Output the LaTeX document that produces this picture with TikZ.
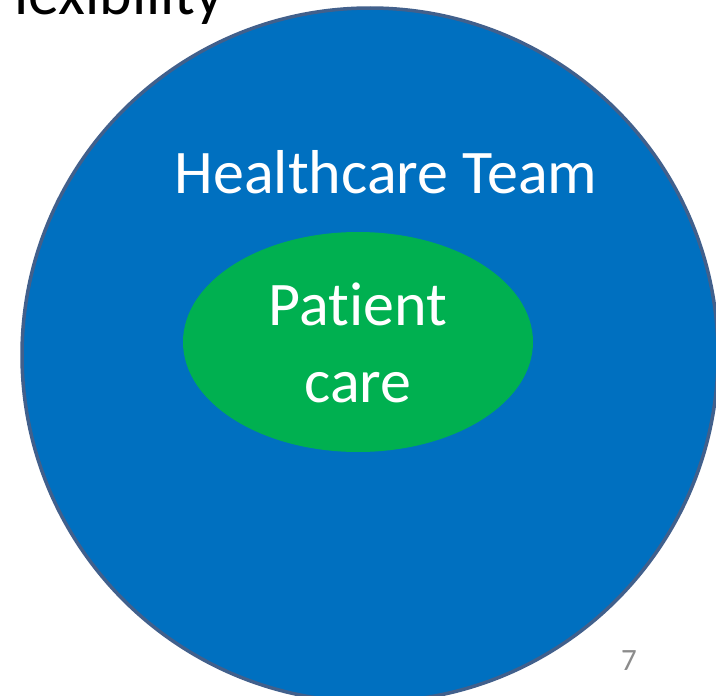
\documentclass[tikz,border=0pt]{standalone}
\usepackage{fontspec}
\setmainfont[Ligatures=NoCommon]{Carlito}
\usetikzlibrary{shapes.geometric}
\definecolor{teamblue}{HTML}{0070C0}
\definecolor{teamedge}{HTML}{41608C}
\definecolor{caregreen}{HTML}{00B050}
\definecolor{pagegray}{HTML}{8C8C8C}
\tikzset{
  bigtext/.style={font=\fontsize{62}{77}\selectfont, inner sep=0pt},
}
\begin{document}
\begin{tikzpicture}[x=1pt,y=-1pt]
\useasboundingbox (0,0) rectangle (716,696);
\clip (0,0) rectangle (716,696);
\fill[white] (0,0) rectangle (716,696);
\node[bigtext, anchor=base east, text=black] (title) at (224,15) {Flexibility};
\draw[teamedge, line width=3.5pt, fill=teamblue] (370,355) ellipse [x radius=348, y radius=347];
\node[bigtext, anchor=base, text=white] (team) at (386,193) {Healthcare Team};
\node[ellipse, fill=caregreen, minimum width=350pt, minimum height=220pt, inner sep=0pt] (care) at (358,342) {};
\node[bigtext, anchor=base, text=white] (caretext1) at (358,325) {Patient};
\node[bigtext, anchor=base, text=white] (caretext2) at (358,402) {care};
\node[font=\fontsize{31}{37}\selectfont, text=pagegray, anchor=base, inner sep=0pt] (page) at (629,670) {7};
\end{tikzpicture}
\end{document}
